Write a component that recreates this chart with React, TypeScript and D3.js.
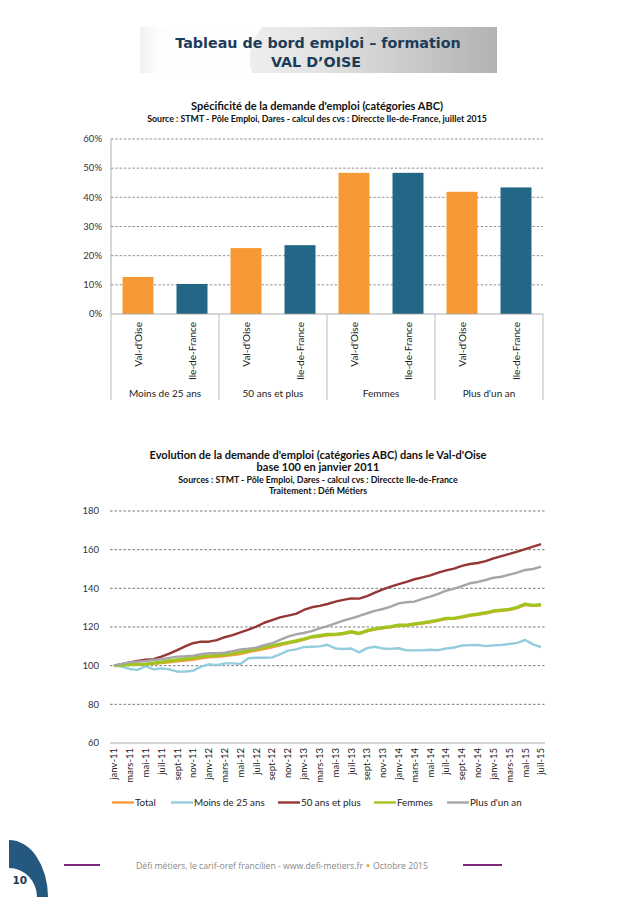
import * as d3 from 'd3';

// Bar chart: Spécificité de la demande d'emploi (%)
const groups = ['Moins de 25 ans', '50 ans et plus', 'Femmes', "Plus d'un an"];
const zones = ["Val-d'Oise", 'Ile-de-France'];
const valOise = [12.7, 22.6, 48.4, 41.9];
const ileDeFrance = [10.3, 23.6, 48.4, 43.4];
const barTicks = [0, 10, 20, 30, 40, 50, 60];

// Line chart: base 100 en janvier 2011, janv-11 .. juil-15
const monthNames = ['janv', 'févr', 'mars', 'avr', 'mai', 'juin', 'juil', 'août', 'sept', 'oct', 'nov', 'déc'];
const years = ['11', '12', '13', '14', '15'];
const months = years.flatMap((yr) => monthNames.map((m) => `${m}-${yr}`)).slice(0, 55);

const total = [
  100, 100.3, 100.5, 100.7, 100.8, 101, 101.3, 101.8, 102.3, 102.7, 103, 103.8,
  104.3, 104.6, 105, 105.5, 106, 107, 107.8, 108.6, 109.5, 110.5, 111.5, 112.3,
  113.3, 114.6, 115.1, 115.7, 115.9, 116.3, 117.1, 116.4, 117.7, 118.7, 119.3, 119.8,
  120.6, 120.7, 121.2, 121.8, 122.4, 123.2, 124.1, 124.2, 124.9, 125.8, 126.3, 127,
  127.9, 128.4, 128.8, 129.8, 131.4, 130.9, 131.2,
];
const moins25 = [
  100, 99.5, 98.3, 97.8, 99.8, 98.1, 98.6, 98.1, 96.9, 96.9, 97.4, 99.5,
  100.7, 100.2, 101.2, 101.2, 100.9, 103.8, 104.1, 104.1, 104.3, 105.9, 107.8, 108.4,
  109.6, 109.8, 110, 110.8, 108.9, 108.6, 108.9, 106.9, 109.1, 109.8, 108.9, 108.7,
  109, 107.9, 107.9, 108, 108.2, 108, 108.9, 109.4, 110.4, 110.6, 110.7, 110.1,
  110.5, 110.7, 111.2, 111.8, 113.3, 111, 109.6,
];
const plus50 = [
  100, 100.8, 101.7, 102.4, 103.1, 103.4, 104.7, 106.2, 108, 110, 111.6, 112.4,
  112.4, 113.2, 114.7, 115.8, 117.2, 118.6, 120.2, 122.2, 123.6, 125, 125.9, 126.8,
  128.8, 130.2, 130.9, 131.9, 133.1, 134, 134.8, 134.7, 136, 137.8, 139.5, 140.9,
  142.2, 143.3, 144.7, 145.7, 146.7, 148.1, 149.3, 150.2, 151.6, 152.6, 153.1, 154.1,
  155.5, 156.7, 157.8, 159, 160.3, 161.6, 162.9,
];
const femmes = [
  100, 100.3, 100.5, 100.6, 100.8, 101.3, 101.8, 102.5, 103, 103.5, 104, 104.6,
  105, 105.3, 105.7, 106.3, 107, 107.8, 108.6, 109.5, 110.3, 111.2, 112, 112.8,
  113.8, 115, 115.5, 116.2, 116.2, 116.7, 117.6, 116.7, 118.1, 119.1, 119.7, 120.2,
  121, 121, 121.6, 122.2, 122.8, 123.6, 124.5, 124.5, 125.3, 126.2, 126.7, 127.4,
  128.3, 128.8, 129.1, 130.2, 131.9, 131.2, 131.6,
];
const plusUnAn = [
  100, 100.9, 101.7, 102.1, 102.4, 102.9, 103.3, 104, 104.7, 104.9, 105.2, 105.9,
  106.4, 106.5, 106.7, 107.5, 108.4, 108.8, 109.3, 110.6, 111.6, 113.3, 115, 116.2,
  116.9, 117.9, 119.3, 120.5, 121.9, 123.3, 124.5, 125.7, 127.1, 128.3, 129.3, 130.5,
  132.2, 132.8, 133.1, 134.5, 135.7, 137.1, 138.8, 139.8, 141.2, 142.6, 143.3, 144.3,
  145.5, 146, 147.1, 148.1, 149.5, 150, 151.2,
];
const seriesNames = ['Total', 'Moins de 25 ans', '50 ans et plus', 'Femmes', "Plus d'un an"];
const lineTicks = [60, 80, 100, 120, 140, 160, 180];

const FONT = "Lato, 'Open Sans', sans-serif";
const NAVY = '#1d3c58';

function BarChart() {
  const slots = groups.flatMap((g, i) => [
    { key: `${i}-0`, zone: zones[0], value: valOise[i], color: '#f79a35' },
    { key: `${i}-1`, zone: zones[1], value: ileDeFrance[i], color: '#226785' },
  ]);
  const x = d3.scaleBand<string>().domain(slots.map((s) => s.key)).range([111, 543]).paddingInner(0.426).paddingOuter(0.213);
  const y = d3.scaleLinear().domain([0, 60]).range([314, 139]);
  const groupW = (543 - 111) / groups.length;
  return (
    <g fontFamily={FONT}>
      <text x={317} y={110} textAnchor="middle" fontSize={11} fontWeight="bold" fill="#111">
        Spécificité de la demande d'emploi (catégories ABC)
      </text>
      <text x={317} y={122} textAnchor="middle" fontSize={8.8} fontWeight="bold" fill="#111">
        Source : STMT - Pôle Emploi, Dares - calcul des cvs : Direccte Ile-de-France, juillet 2015
      </text>
      {barTicks.map((t) => (
        <g key={t}>
          {t > 0 && (
            <line x1={111} x2={543} y1={y(t)} y2={y(t)} stroke="#777" strokeWidth={0.8} strokeDasharray="2.5,1.8" />
          )}
          <text x={102} y={y(t) + 3.3} textAnchor="end" fontSize={9.5} fill="#333">{`${t}%`}</text>
        </g>
      ))}
      <line x1={111} x2={111} y1={139} y2={314} stroke="#999" strokeWidth={0.8} />
      {slots.map((s) => (
        <rect key={s.key} x={x(s.key)} y={y(s.value)} width={x.bandwidth()} height={y(0) - y(s.value)} fill={s.color} />
      ))}
      <line x1={111} x2={543} y1={314} y2={314} stroke="#999" strokeWidth={0.8} />
      {d3.range(groups.length + 1).map((i) => (
        <line key={i} x1={111 + i * groupW} x2={111 + i * groupW} y1={314} y2={400} stroke="#aaa" strokeWidth={0.8} />
      ))}
      {slots.map((s) => {
        const cx = (x(s.key) ?? 0) + x.bandwidth() / 2;
        return (
          <text key={s.key} transform={`translate(${cx + 3.5},322) rotate(-90)`} textAnchor="end" fontSize={10} fill="#222">
            {s.zone}
          </text>
        );
      })}
      {groups.map((g, i) => (
        <text key={g} x={111 + (i + 0.5) * groupW} y={397} textAnchor="middle" fontSize={10} fill="#222">{g}</text>
      ))}
    </g>
  );
}

function LineChart() {
  const x = d3.scalePoint<string>().domain(months).range([110, 545]).padding(0.5);
  const y = d3.scaleLinear().domain([60, 180]).range([743, 511]);
  const series = [
    { name: seriesNames[0], values: total, color: '#f79a40', width: 2.4 },
    { name: seriesNames[1], values: moins25, color: '#93cddd', width: 2.4 },
    { name: seriesNames[2], values: plus50, color: '#953735', width: 2.4 },
    { name: seriesNames[3], values: femmes, color: '#a2c41e', width: 3.2 },
    { name: seriesNames[4], values: plusUnAn, color: '#a6a6a6', width: 2.4 },
  ];
  const legendX = [112, 171, 278, 374, 447];
  return (
    <g fontFamily={FONT}>
      <text x={318} y={459} textAnchor="middle" fontSize={11} fontWeight="bold" fill="#111">
        Evolution de la demande d'emploi (catégories ABC) dans le Val-d'Oise
      </text>
      <text x={318} y={471} textAnchor="middle" fontSize={11} fontWeight="bold" fill="#111">
        base 100 en janvier 2011
      </text>
      <text x={318} y={482.5} textAnchor="middle" fontSize={8.8} fontWeight="bold" fill="#111">
        Sources : STMT - Pôle Emploi, Dares - calcul cvs : Direccte Ile-de-France
      </text>
      <text x={318} y={494} textAnchor="middle" fontSize={8.8} fontWeight="bold" fill="#111">
        Traitement : Défi Métiers
      </text>
      {lineTicks.map((t) => (
        <g key={t}>
          {t > 60 && (
            <line x1={110} x2={545} y1={y(t)} y2={y(t)} stroke="#555" strokeWidth={0.8} strokeDasharray="2.5,2" />
          )}
          <text x={99} y={y(t) + 3.3} textAnchor="end" fontSize={9.5} fill="#333">{t}</text>
        </g>
      ))}
      <line x1={110} x2={545} y1={743} y2={743} stroke="#999" strokeWidth={0.8} />
      {series.map((s) => {
        const path = d3.line<number>().x((_, i) => x(months[i]) ?? 0).y((v) => y(v));
        return <path key={s.name} d={path(s.values) ?? ''} fill="none" stroke={s.color} strokeWidth={s.width} strokeLinejoin="round" />;
      })}
      {months.map((m, i) =>
        i % 2 === 0 ? (
          <text key={m} transform={`translate(${(x(m) ?? 0) + 3.3},748) rotate(-90)`} textAnchor="end" fontSize={9.5} fill="#222">
            {m}
          </text>
        ) : null,
      )}
      {series.map((s, i) => (
        <g key={s.name}>
          <line x1={legendX[i]} x2={legendX[i] + 22} y1={802.5} y2={802.5} stroke={s.color} strokeWidth={2.4} />
          <text x={legendX[i] + 23} y={806} fontSize={9.8} fill="#222">{s.name}</text>
        </g>
      ))}
    </g>
  );
}

function Header() {
  return (
    <g>
      <defs>
        <linearGradient id="hdr" x1="0" x2="1" y1="0" y2="0">
          <stop offset="0" stopColor="#eeeeee" />
          <stop offset="0.3" stopColor="#e2e2e2" />
          <stop offset="1" stopColor="#b2b2b2" />
        </linearGradient>
        <linearGradient id="hdl" x1="0" x2="1" y1="0" y2="0">
          <stop offset="0" stopColor="#f1f1f1" />
          <stop offset="0.15" stopColor="#fdfdfd" />
          <stop offset="1" stopColor="#ffffff" />
        </linearGradient>
      </defs>
      <rect x={140} y={27} width={125} height={46} fill="url(#hdl)" />
      <path d="M262,27 L497,27 L497,73 L252,73 Q244,50 262,27 Z" fill="url(#hdr)" />
      <text x={318} y={48} textAnchor="middle" fontFamily="'DejaVu Sans', Verdana, sans-serif" fontWeight="bold" fontSize={14.3} fill={NAVY}>
        Tableau de bord emploi – formation
      </text>
      <text x={316} y={66.5} textAnchor="middle" fontFamily="'DejaVu Sans', Verdana, sans-serif" fontWeight="bold" fontSize={14.3} fill={NAVY}>
        VAL D’OISE
      </text>
    </g>
  );
}

function Footer() {
  const font = "'Open Sans', sans-serif";
  return (
    <g>
      <path d="M9,840 A39,57 0 0 1 48,897 L37,897 A28,29 0 0 0 9,868 Z" fill="#24587f" />
      <text x={12.5} y={884} fontFamily="'DejaVu Sans', Verdana, sans-serif" fontWeight="bold" fontSize={10.5} fill={NAVY}>10</text>
      <line x1={64} x2={100} y1={865} y2={865} stroke="#7a2a7c" strokeWidth={2.2} />
      <line x1={463} x2={502} y1={865} y2={865} stroke="#7a2a7c" strokeWidth={2.2} />
      <text x={136} y={868.5} fontFamily={font} fontSize={9} fill="#888" textLength={227} lengthAdjust="spacingAndGlyphs">
        Défi métiers, le carif-oref francilien - www.defi-metiers.fr
      </text>
      <circle cx={368} cy={865.5} r={1.6} fill="#f0a030" />
      <text x={373} y={868.5} fontFamily={font} fontSize={9} fill="#888" textLength={55} lengthAdjust="spacingAndGlyphs">
        Octobre 2015
      </text>
    </g>
  );
}

export default function App() {
  return (
    <svg width={638} height={903} viewBox="0 0 638 903" style={{ position: 'absolute', left: 0, top: 0, background: '#fff' }}>
      <rect width={638} height={903} fill="#fff" />
      <Header />
      <BarChart />
      <LineChart />
      <Footer />
    </svg>
  );
}
